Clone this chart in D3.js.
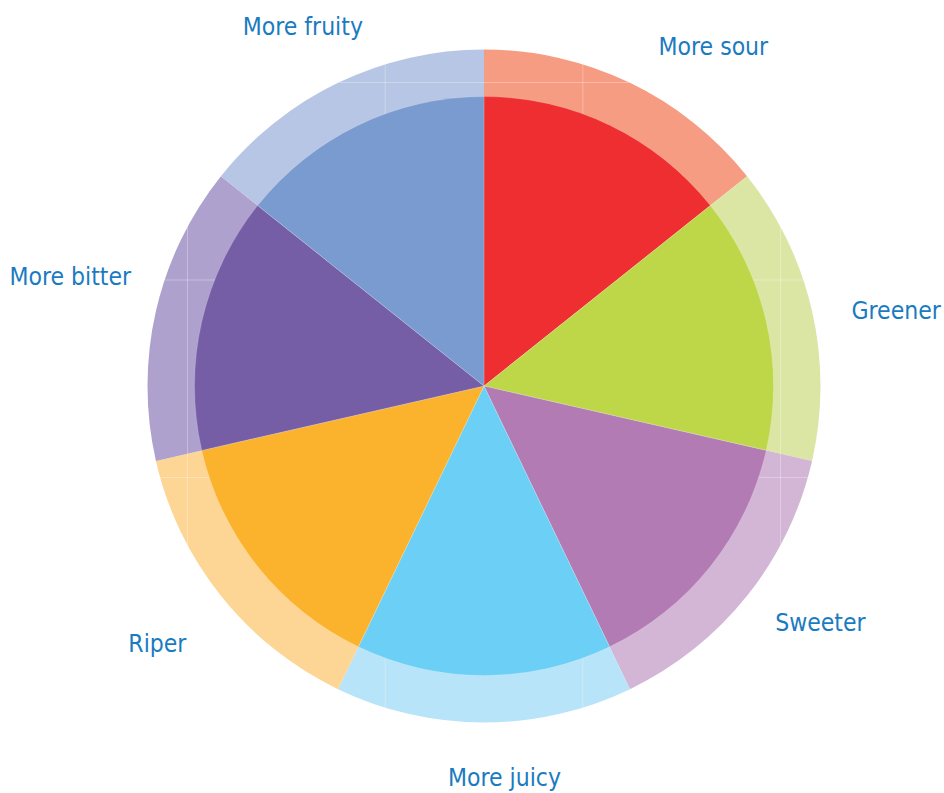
<!DOCTYPE html>
<html>
<head>
<meta charset="utf-8">
<script src="https://cdn.jsdelivr.net/npm/d3@7"></script>
<style>
  html, body { margin: 0; padding: 0; background: #ffffff; }
  svg { display: block; }
</style>
</head>
<body>
<svg id="chart" width="944" height="793"></svg>
<script>
// ---- data ----
const categories = ["More sour", "Greener", "Sweeter", "More juicy", "Riper", "More bitter", "More fruity"];
const values = [1, 1, 1, 1, 1, 1, 1];
const innerColors = ["#EE2E31", "#BDD748", "#B27BB4", "#6CCFF5", "#FBB22C", "#765EA7", "#7A9BCF"];
const ringColors  = ["#F69C82", "#DCE6A4", "#D3B6D6", "#B7E4F8", "#FDD594", "#AEA1CD", "#B7C6E4"];

// ---- layout ----
const W = 944, H = 793;
const cx = 484, cy = 386;
const rPie = 289.5, rRing = 336.5;
const labelRadius = 412;
const labelNudgeDeg = [8.3, 2.5, -3.5, -3, 0.3, 2, -1];
const labelRadiusAdj = [-2, 7, -1, -20, 4, 16, -9];

const svg = d3.select("#chart");
const g = svg.append("g").attr("transform", `translate(${cx},${cy})`);

const pie = d3.pie().sort(null).value(d => d)(values);

const arcRing = d3.arc().innerRadius(rPie - 1).outerRadius(rRing);
const arcPie = d3.arc().innerRadius(0).outerRadius(rPie);

// outer ring
g.selectAll("path.ring").data(pie).join("path")
  .attr("class", "ring")
  .attr("d", arcRing)
  .attr("fill", (d, i) => ringColors[i]);

// faint grid lines across the ring
const clipId = "ringClip";
svg.append("defs").append("clipPath").attr("id", clipId)
  .append("circle").attr("cx", cx).attr("cy", cy).attr("r", rRing);
const grid = svg.append("g").attr("clip-path", `url(#${clipId})`)
  .attr("stroke", "#ffffff").attr("stroke-opacity", 0.3).attr("stroke-width", 1);
const xScale = d3.scaleLinear().domain([0, 3]).range([187.5, 780.5]);
const yScale = d3.scaleLinear().domain([0, 2]).range([82.5, 477.5]);
d3.range(4).forEach(k => {
  grid.append("line").attr("x1", xScale(k)).attr("x2", xScale(k)).attr("y1", 0).attr("y2", H);
});
d3.range(3).forEach(k => {
  grid.append("line").attr("y1", yScale(k)).attr("y2", yScale(k)).attr("x1", 0).attr("x2", W);
});

// inner pie
const gp = svg.append("g").attr("transform", `translate(${cx},${cy})`);
gp.selectAll("path.slice").data(pie).join("path")
  .attr("class", "slice")
  .attr("d", arcPie)
  .attr("fill", (d, i) => innerColors[i])
  .attr("stroke", "#ffffff")
  .attr("stroke-opacity", 0.2)
  .attr("stroke-width", 0.8);

// labels
gp.selectAll("text.lbl").data(pie).join("text")
  .attr("class", "lbl")
  .attr("transform", (d, i) => {
    const a = (d.startAngle + d.endAngle) / 2 + labelNudgeDeg[i] * Math.PI / 180;
    const r = labelRadius + labelRadiusAdj[i];
    return `translate(${r * Math.sin(a)},${-r * Math.cos(a)})`;
  })
  .attr("text-anchor", "middle")
  .attr("dy", "0.35em")
  .attr("font-family", "'Liberation Sans Narrow', 'DejaVu Sans Condensed', 'DejaVu Sans', sans-serif")
  .attr("font-stretch", "condensed")
  .attr("font-size", 24.5)
  .attr("fill", "#1A7BC0")
  .text((d, i) => categories[i]);
</script>
</body>
</html>
